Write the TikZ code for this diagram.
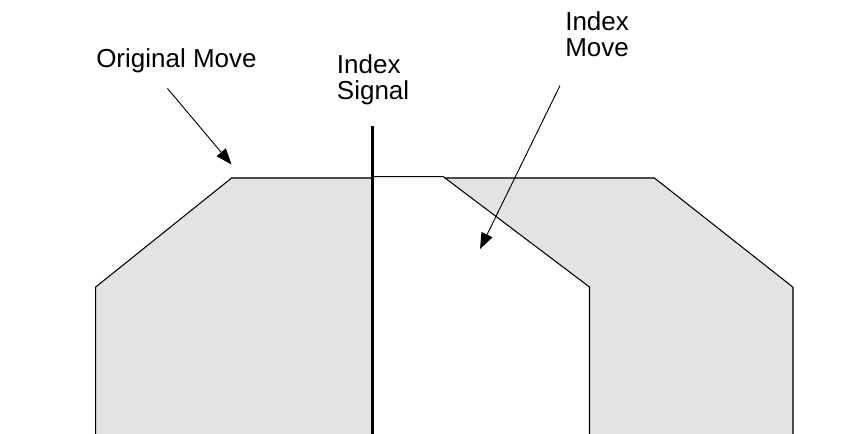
\documentclass[tikz,border=0pt]{standalone}
\usepackage{fontspec}
\setmainfont{Liberation Sans}
\usetikzlibrary{arrows.meta}

\begin{document}
\begin{tikzpicture}[
    x=0.75pt, y=-0.75pt,
    every node/.style={font=\fontsize{19.5}{19.5}\selectfont, inner sep=0pt},
    label/.style={anchor=base west, align=left},
    motion/.style={fill=black!11, draw=none},
    edge/.style={draw=black, line width=0.8pt},
    rim/.style={draw=black!70, line width=1.5pt},
    signal/.style={draw=black, line width=2.3pt},
    pointer/.style={-{Triangle[length=12pt, width=9pt]}, line width=0.7pt}
]
\useasboundingbox (0,0) rectangle (867,434);

% Original move profile
\fill[motion] (95.7,434) -- (95.7,287) -- (232,177.7) -- (654,177.7)
    -- (792.7,287) -- (792.7,434) -- cycle;
\draw[edge] (95.7,434) -- (95.7,287) -- (232,177.7);
\draw[rim] (232,177.7) -- (654,177.7);
\draw[edge] (654,177.7) -- (792.7,287);
\draw[rim] (792.7,287) -- (792.7,434);

% Index move cuts into it
\fill[white] (372,176.7) -- (443.3,176.7) -- (589.5,287) -- (589.5,434)
    -- (372,434) -- cycle;
\draw[edge] (372,176.7) -- (443.3,176.7) -- (589.5,287) -- (589.5,434);

% Index signal
\coordinate (sigtop) at (372.3,126);
\coordinate (sigbot) at (372.3,434);
\draw[signal] (sigtop) -- (sigbot);

% Labels
\node[label] (orig) at (96,67.3) {Original Move};
\node[label] (sig) at (336.7,100) {Index\\Signal};
\node[label] (idx) at (565,57) {Index\\Move};

% Arrows
\coordinate (origtip) at (231.5,164.5);
\coordinate (idxtip) at (480,249);
\draw[pointer] ([shift={(-9,15.5)}]orig.south) -- (origtip);
\draw[pointer] ([shift={(-5,28)}]idx.south west) -- (idxtip);

\end{tikzpicture}
\end{document}
